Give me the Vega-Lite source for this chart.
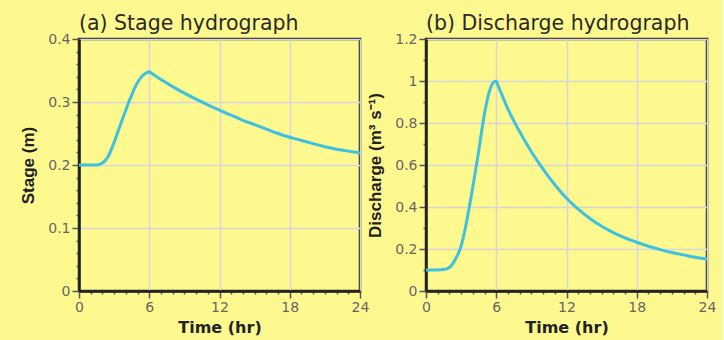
{
  "$schema": "https://vega.github.io/schema/vega-lite/v6.json",
  "background": "#FEF98F",
  "padding": {"left": 18, "top": 12, "right": 5, "bottom": 5},
  "spacing": 66,
  "bounds": "flush",
  "data": {"values": [
    {"t": 0, "stage": 0.2, "discharge": 0.1},
    {"t": 1, "stage": 0.2, "discharge": 0.1},
    {"t": 1.5, "stage": 0.2, "discharge": 0.102},
    {"t": 2, "stage": 0.203, "discharge": 0.112},
    {"t": 2.5, "stage": 0.214, "discharge": 0.15},
    {"t": 3, "stage": 0.236, "discharge": 0.215},
    {"t": 3.25, "stage": 0.249, "discharge": 0.27},
    {"t": 3.5, "stage": 0.262, "discharge": 0.34},
    {"t": 3.75, "stage": 0.275, "discharge": 0.415},
    {"t": 4, "stage": 0.287, "discharge": 0.495},
    {"t": 4.25, "stage": 0.3, "discharge": 0.58},
    {"t": 4.5, "stage": 0.311, "discharge": 0.665},
    {"t": 4.75, "stage": 0.322, "discharge": 0.76},
    {"t": 5, "stage": 0.331, "discharge": 0.845},
    {"t": 5.25, "stage": 0.338, "discharge": 0.915},
    {"t": 5.5, "stage": 0.343, "discharge": 0.965},
    {"t": 5.75, "stage": 0.346, "discharge": 0.993},
    {"t": 6, "stage": 0.348, "discharge": 1.0},
    {"t": 6.1, "stage": 0.3468, "discharge": 0.986},
    {"t": 6.5, "stage": 0.3418, "discharge": 0.932},
    {"t": 7, "stage": 0.3358, "discharge": 0.866},
    {"t": 7.5, "stage": 0.33, "discharge": 0.81},
    {"t": 8, "stage": 0.3244, "discharge": 0.758},
    {"t": 9, "stage": 0.314, "discharge": 0.663},
    {"t": 10, "stage": 0.3045, "discharge": 0.58},
    {"t": 11, "stage": 0.2955, "discharge": 0.506},
    {"t": 12, "stage": 0.287, "discharge": 0.442},
    {"t": 13, "stage": 0.279, "discharge": 0.39},
    {"t": 14, "stage": 0.271, "discharge": 0.345},
    {"t": 15, "stage": 0.264, "discharge": 0.308},
    {"t": 16, "stage": 0.257, "discharge": 0.278},
    {"t": 17, "stage": 0.25, "discharge": 0.253},
    {"t": 18, "stage": 0.244, "discharge": 0.232},
    {"t": 19, "stage": 0.239, "discharge": 0.213},
    {"t": 20, "stage": 0.234, "discharge": 0.197},
    {"t": 21, "stage": 0.229, "discharge": 0.183},
    {"t": 22, "stage": 0.225, "discharge": 0.172},
    {"t": 23, "stage": 0.222, "discharge": 0.161},
    {"t": 24, "stage": 0.219, "discharge": 0.152}
  ]},
  "config": {
    "font": "DejaVu Sans",
    "view": {"stroke": "#1e1e1e", "strokeWidth": 2.5},
    "axis": {
      "domainColor": "#1e1e1e",
      "domainWidth": 2.5,
      "tickColor": "#555555",
      "tickWidth": 1.5,
      "labelColor": "#666666",
      "labelFont": "DejaVu Sans",
      "labelFontSize": 14,
      "labelOverlap": false,
      "labelFlush": false,
      "titleColor": "#222222",
      "titleFontWeight": "bold",
      "gridColor": "#D6D6DC",
      "gridWidth": 1.5
    },
    "axisX": {"titleFont": "DejaVu Sans", "titleFontSize": 16, "titlePadding": 5, "labelPadding": 2},
    "axisY": {"titleFont": "Liberation Sans", "titleFontSize": 17, "titlePadding": 10, "labelPadding": 2},
    "title": {"anchor": "start", "frame": "group", "fontSize": 20.5, "fontWeight": "normal", "color": "#2a2a2a", "offset": -2, "font": "DejaVu Sans"}
  },
  "hconcat": [
    {
      "width": 281,
      "height": 252,
      "title": "(a) Stage hydrograph",
      "mark": {"type": "line", "color": "#3DC1E0", "strokeWidth": 3, "interpolate": "monotone"},
      "encoding": {
        "x": {
          "field": "t", "type": "quantitative",
          "scale": {"domain": [0, 24], "nice": false},
          "axis": {
            "title": "Time (hr)",
            "values": [0,1,2,3,4,5,6,7,8,9,10,11,12,13,14,15,16,17,18,19,20,21,22,23,24],
            "labelExpr": "datum.value % 6 === 0 ? format(datum.value, '~g') : ''",
            "tickSize": {"condition": {"test": "datum.value % 6 === 0", "value": 7}, "value": 3},
            "gridOpacity": {"condition": {"test": "datum.value % 6 === 0", "value": 1}, "value": 0}
          }
        },
        "y": {
          "field": "stage", "type": "quantitative",
          "scale": {"domain": [0, 0.4], "nice": false},
          "axis": {
            "title": "Stage (m)",
            "values": [0,0.02,0.04,0.06,0.08,0.1,0.12,0.14,0.16,0.18,0.2,0.22,0.24,0.26,0.28,0.3,0.32,0.34,0.36,0.38,0.4],
            "labelExpr": "abs(datum.value*10 - round(datum.value*10)) < 1e-6 ? format(datum.value, '~g') : ''",
            "tickSize": {"condition": {"test": "abs(datum.value*10 - round(datum.value*10)) < 1e-6", "value": 7}, "value": 3},
            "gridOpacity": {"condition": {"test": "abs(datum.value*10 - round(datum.value*10)) < 1e-6", "value": 1}, "value": 0}
          }
        }
      }
    },
    {
      "width": 281,
      "height": 252,
      "title": "(b) Discharge hydrograph",
      "mark": {"type": "line", "color": "#3DC1E0", "strokeWidth": 3, "interpolate": "monotone"},
      "encoding": {
        "x": {
          "field": "t", "type": "quantitative",
          "scale": {"domain": [0, 24], "nice": false},
          "axis": {
            "title": "Time (hr)",
            "values": [0,1,2,3,4,5,6,7,8,9,10,11,12,13,14,15,16,17,18,19,20,21,22,23,24],
            "labelExpr": "datum.value % 6 === 0 ? format(datum.value, '~g') : ''",
            "tickSize": {"condition": {"test": "datum.value % 6 === 0", "value": 7}, "value": 3},
            "gridOpacity": {"condition": {"test": "datum.value % 6 === 0", "value": 1}, "value": 0}
          }
        },
        "y": {
          "field": "discharge", "type": "quantitative",
          "scale": {"domain": [0, 1.2], "nice": false},
          "axis": {
            "title": "Discharge (m³ s⁻¹)",
            "values": [0,0.1,0.2,0.3,0.4,0.5,0.6,0.7,0.8,0.9,1,1.1,1.2],
            "labelExpr": "abs(datum.value*5 - round(datum.value*5)) < 1e-6 ? format(datum.value, '~g') : ''",
            "tickSize": {"condition": {"test": "abs(datum.value*5 - round(datum.value*5)) < 1e-6", "value": 7}, "value": 3},
            "gridOpacity": {"condition": {"test": "abs(datum.value*5 - round(datum.value*5)) < 1e-6", "value": 1}, "value": 0}
          }
        }
      }
    }
  ]
}
